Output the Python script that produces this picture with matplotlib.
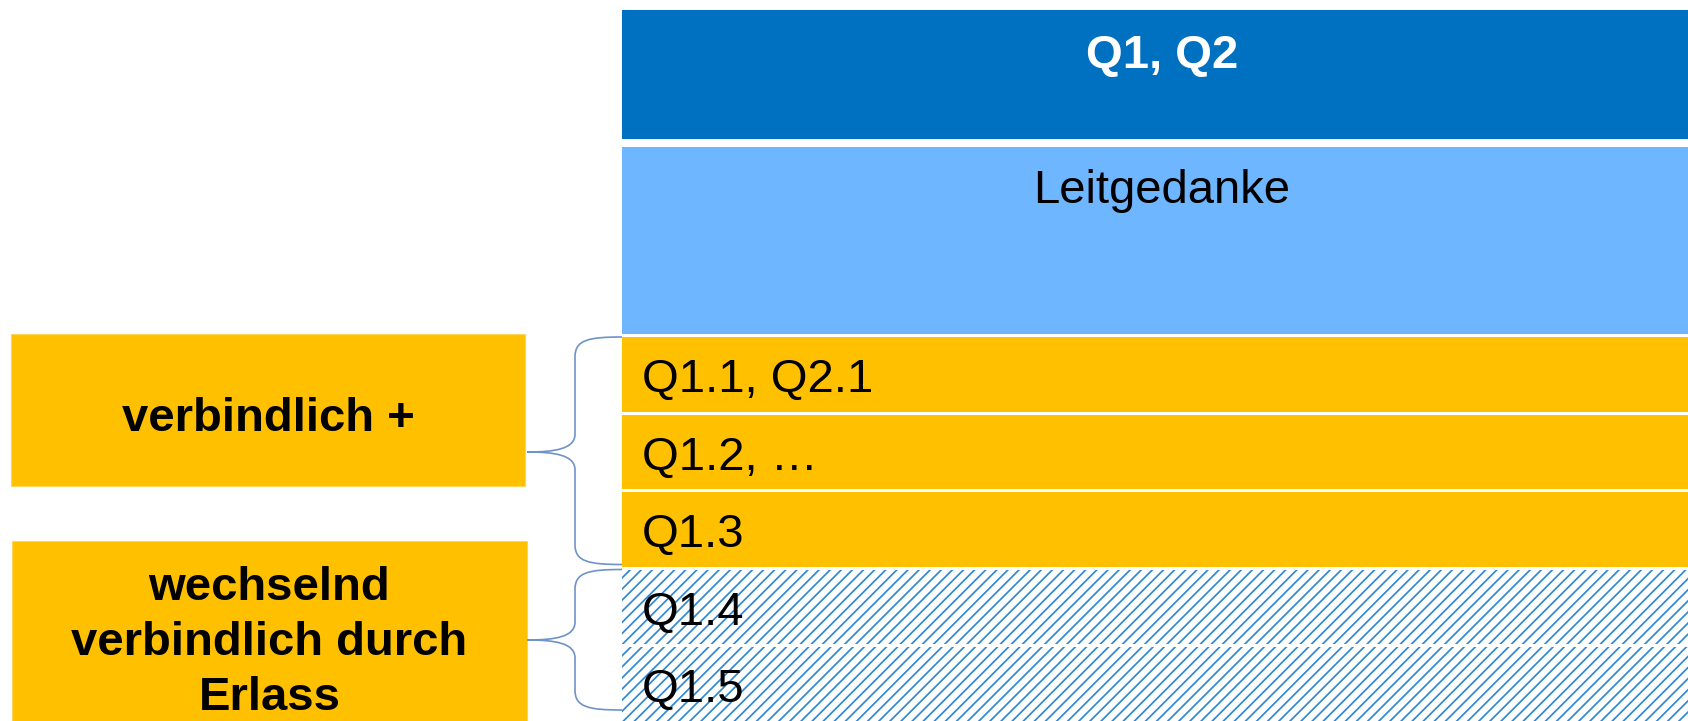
import matplotlib
matplotlib.use("Agg")
import matplotlib.pyplot as plt
from matplotlib.patches import Rectangle, PathPatch
from matplotlib.path import Path

# ---- content ----
header_label = "Q1, Q2"
guide_label = "Leitgedanke"
row_labels = ["Q1.1, Q2.1", "Q1.2, …", "Q1.3", "Q1.4", "Q1.5"]
row_kinds = ["fix", "fix", "fix", "wechselnd", "wechselnd"]
group_labels = ["verbindlich +", "wechselnd\nverbindlich durch\nErlass"]
group_kinds = ["fix", "wechselnd"]

# ---- style ----
DARK = "#0070C0"
LIGHT = "#6EB6FF"
ORANGE = "#FFC000"
HATCH = "#3189D4"
BRACE = "#6F93C8"
FONT = ["Liberation Sans", "DejaVu Sans"]
FS = 34

plt.rcParams["hatch.linewidth"] = 1.25

W, H = 1688, 721
fig = plt.figure(figsize=(W / 100, H / 100), dpi=100)
ax = fig.add_axes([0, 0, 1, 1])
ax.set_xlim(0, W)
ax.set_ylim(H, 0)
ax.axis("off")

x0, x1 = 622, W + 5
xc = (x0 + W) / 2 + 7
# header
ax.add_patch(Rectangle((x0, 10), x1 - x0, 129, facecolor=DARK, edgecolor="none"))
ax.text(xc, 68, header_label, color="white", fontsize=FS, fontweight="bold",
        ha="center", va="baseline", family=FONT)
# guiding idea
ax.add_patch(Rectangle((x0, 147), x1 - x0, 187, facecolor=LIGHT, edgecolor="none"))
ax.text(xc, 203, guide_label, color="black", fontsize=FS,
        ha="center", va="baseline", family=FONT)

# rows
row_top0, row_step, row_h = 337, 77.5, 74.5
spans = {}
for i, (lab, kind) in enumerate(zip(row_labels, row_kinds)):
    top = row_top0 + i * row_step
    h = row_h if i < len(row_labels) - 1 else H + 10 - top
    if kind == "fix":
        ax.add_patch(Rectangle((x0, top), x1 - x0, h, facecolor=ORANGE, edgecolor="none"))
    else:
        ax.add_patch(Rectangle((x0, top), x1 - x0, h, facecolor="white",
                               edgecolor=HATCH, hatch="///", linewidth=0))
    ax.text(642, top + 55, lab, color="black", fontsize=FS, ha="left", va="baseline",
            family=FONT)
    s = spans.setdefault(kind, [top, top + min(h, row_h)])
    s[1] = top + min(h, row_h)

# group boxes and braces
boxes = [(11, 334, 514, 152), (12, 541, 515, 190)]
tips = {"fix": 452, "wechselnd": 640}
for (bx, by, bw, bh), lab, kind in zip(boxes, group_labels, group_kinds):
    ax.add_patch(Rectangle((bx, by), bw, bh, facecolor=ORANGE, edgecolor="#FFD55A", linewidth=0.8))
    lines = lab.split("\n")
    if len(lines) == 1:
        base = [431]
    else:
        base = [600, 655, 710]
    for ln, yb in zip(lines, base):
        ax.text(bx + bw / 2, yb, ln, color="black", fontsize=FS, fontweight="bold",
                ha="center", va="baseline", family=FONT)
    # brace
    top, bot = spans[kind]
    if kind == "wechselnd":
        bot = 710
    else:
        bot = bot - 2
    tip = tips[kind]
    xr, xv, xt = 622, 575, 527
    verts = [
        (xr, top),
        (588, top), (xv, top + 3), (xv, top + 20),
        (xv, tip - 18),
        (xv, tip - 3), (555, tip), (xt, tip),
        (555, tip), (xv, tip + 3), (xv, tip + 18),
        (xv, bot - 20),
        (xv, bot - 3), (588, bot), (xr, bot),
    ]
    codes = [Path.MOVETO,
             Path.CURVE4, Path.CURVE4, Path.CURVE4,
             Path.LINETO,
             Path.CURVE4, Path.CURVE4, Path.CURVE4,
             Path.CURVE4, Path.CURVE4, Path.CURVE4,
             Path.LINETO,
             Path.CURVE4, Path.CURVE4, Path.CURVE4]
    ax.add_patch(PathPatch(Path(verts, codes), facecolor="none", edgecolor=BRACE, linewidth=1.2))

fig.savefig("out.png", dpi=100)
